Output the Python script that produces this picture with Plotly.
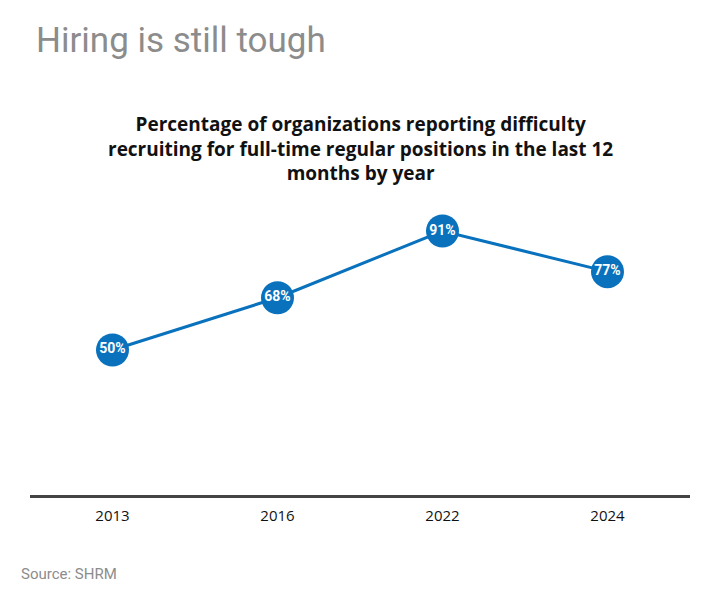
import plotly.graph_objects as go

years = ["2013", "2016", "2022", "2024"]
values = [50, 68, 91, 77]
labels = ["50%", "68%", "91%", "77%"]

blue = "#0a72bd"

fig = go.Figure()
fig.add_trace(go.Scatter(
    x=years, y=values, mode="lines+markers+text",
    text=labels, textposition="middle center",
    textfont=dict(family="Roboto", size=14, color="white", weight="bold"),
    line=dict(color=blue, width=3),
    marker=dict(size=33, color=blue),
    hoverinfo="skip", cliponaxis=False,
))

fig.update_layout(
    width=708, height=594,
    margin=dict(l=30, r=18, t=200, b=99),
    paper_bgcolor="white", plot_bgcolor="white",
    showlegend=False,
    xaxis=dict(type="category", range=[-0.5, 3.5], showgrid=False,
               showline=True, linecolor="#444444", linewidth=3,
               ticks="", tickfont=dict(family="Open Sans", size=15, color="#111111"),
               ticklabelstandoff=5, fixedrange=True),
    yaxis=dict(range=[0, 101.7], visible=False, fixedrange=True),
    annotations=[
        dict(text="Hiring is still tough", xref="paper", yref="paper",
             x=0, y=1, xanchor="left", yanchor="middle",
             xshift=4, yshift=200 - 40, showarrow=False,
             font=dict(family="Roboto", size=35, color="#8c8c8c")),
        dict(text="<b>Percentage of organizations reporting difficulty<br>recruiting for full-time regular positions in the last 12<br>months by year</b>",
             xref="paper", yref="paper", x=0.5, y=1, xanchor="center", yanchor="bottom",
             yshift=12, showarrow=False, align="center",
             font=dict(family="Open Sans", size=19, color="#111111")),
        dict(text="Source: SHRM", xref="paper", yref="paper", x=0, y=0,
             xanchor="left", yanchor="middle", xshift=-11, yshift=-(574 - 495),
             showarrow=False,
             font=dict(family="Roboto", size=15, color="#8c8c8c")),
    ],
)

fig.write_html("out.html")
